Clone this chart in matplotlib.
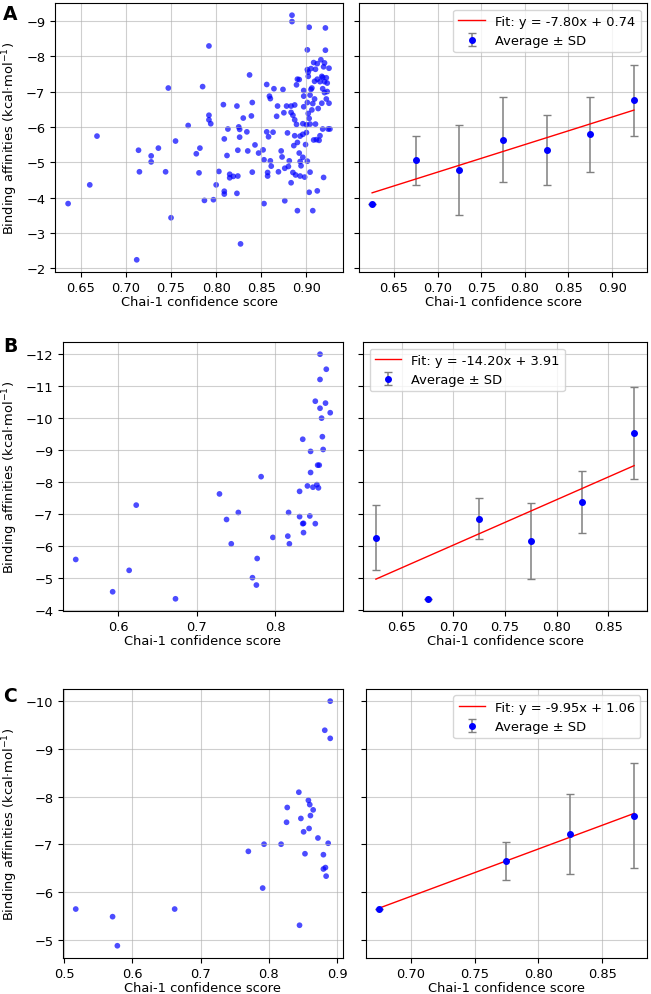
import numpy as np
import matplotlib.pyplot as plt
from matplotlib.ticker import MultipleLocator

# ---- Panel A: individual points (confidence score, binding affinity)
a_x = [0.636, 0.660, 0.668, 0.714, 0.715, 0.712, 0.728, 0.728, 0.736, 0.744,
       0.747, 0.750, 0.755, 0.769, 0.778, 0.782, 0.781, 0.785, 0.787, 0.792,
       0.792, 0.792, 0.794, 0.797, 0.800, 0.803, 0.808, 0.809, 0.809, 0.809,
       0.812, 0.813, 0.815, 0.815, 0.819, 0.823, 0.824, 0.823, 0.824, 0.825,
       0.826, 0.826, 0.827, 0.830, 0.834, 0.835, 0.837, 0.839, 0.840, 0.840,
       0.843, 0.847, 0.852, 0.853, 0.853, 0.856, 0.856, 0.857, 0.857, 0.858,
       0.859, 0.860, 0.860, 0.861, 0.863, 0.864, 0.867, 0.868, 0.869, 0.872,
       0.873, 0.874, 0.875, 0.876, 0.876, 0.878, 0.879, 0.880, 0.881, 0.883,
       0.883, 0.883, 0.884, 0.884, 0.885, 0.885, 0.886, 0.887, 0.887, 0.887,
       0.888, 0.889, 0.889, 0.890, 0.890, 0.890, 0.892, 0.892, 0.893, 0.893,
       0.893, 0.894, 0.896, 0.896, 0.896, 0.897, 0.897, 0.897, 0.898, 0.899,
       0.900, 0.900, 0.901, 0.901, 0.901, 0.901, 0.902, 0.902, 0.903, 0.903,
       0.903, 0.904, 0.904, 0.905, 0.905, 0.906, 0.907, 0.907, 0.908, 0.908,
       0.909, 0.909, 0.910, 0.910, 0.911, 0.912, 0.912, 0.913, 0.914, 0.915,
       0.915, 0.916, 0.917, 0.917, 0.918, 0.918, 0.919, 0.920, 0.920, 0.920,
       0.921, 0.921, 0.922, 0.922, 0.923, 0.924, 0.925, 0.925, 0.926, 0.918,
       0.912, 0.906, 0.904, 0.902, 0.919, 0.923]
a_y = [-3.83, -4.36, -5.74, -5.34, -4.73, -2.24, -5.18, -5.01, -5.40, -4.73,
       -7.10, -3.43, -5.60, -6.04, -5.24, -5.40, -4.70, -7.14, -3.92, -8.29,
       -6.33, -6.20, -6.09, -3.94, -4.36, -4.74, -6.63, -5.66, -4.18, -4.10,
       -5.19, -5.94, -4.66, -4.56, -4.60, -6.59, -4.61, -4.12, -5.34, -6.00,
       -5.93, -5.71, -2.69, -6.25, -5.86, -5.32, -7.47, -6.31, -6.69, -4.72,
       -5.49, -5.26, -5.35, -5.07, -3.83, -7.20, -5.86, -4.71, -4.61, -5.72,
       -6.87, -6.80, -5.04, -4.89, -5.85, -7.08, -6.30, -6.59, -4.73, -5.32,
       -5.15, -7.06, -6.40, -3.91, -4.83, -6.59, -5.83, -4.88, -5.04, -4.42,
       -6.41, -6.59, -9.16, -8.98, -6.33, -4.71, -5.47, -5.75, -6.62, -6.20,
       -4.64, -7.19, -6.07, -5.56, -7.35, -3.63, -5.26, -7.34, -5.74, -5.02,
       -4.61, -4.90, -6.09, -5.79, -5.14, -7.03, -6.57, -6.87, -4.58, -5.50,
       -5.84, -6.06, -6.69, -5.03, -8.18, -7.62, -7.43, -6.38, -6.24, -4.15,
       -8.82, -4.72, -6.08, -7.06, -7.65, -6.48, -3.63, -6.66, -7.82, -5.63,
       -7.29, -6.79, -7.63, -6.08, -5.64, -4.19, -7.79, -6.52, -5.62, -7.28,
       -5.75, -7.90, -7.43, -6.67, -7.08, -5.94, -4.57, -7.28, -6.97, -7.81,
       -8.17, -8.80, -7.39, -6.79, -7.24, -5.94, -7.66, -6.67, -5.94, -7.40,
       -7.35, -7.10, -6.90, -7.55, -7.70, -7.00]

# ---- Panel A: binned averages
a_bin = [0.625, 0.675, 0.725, 0.775, 0.825, 0.875, 0.925]
a_mean = [-3.82, -5.05, -4.78, -5.64, -5.34, -5.79, -6.75]
a_sd = [0.0, 0.70, 1.28, 1.21, 0.99, 1.07, 1.00]
a_fit = (-7.80, 0.74)

# ---- Panel B
b_x = [0.546, 0.593, 0.614, 0.623, 0.673, 0.729, 0.738, 0.753, 0.744, 0.782,
       0.777, 0.771, 0.776, 0.797, 0.816, 0.817, 0.818, 0.831, 0.831, 0.835,
       0.836, 0.835, 0.836, 0.841, 0.844, 0.845, 0.845, 0.848, 0.851, 0.851,
       0.853, 0.854, 0.856, 0.855, 0.857, 0.857, 0.857, 0.859, 0.860, 0.861,
       0.865, 0.864, 0.870]
b_y = [-5.58, -4.57, -5.24, -7.28, -4.35, -7.63, -6.83, -7.05, -6.07, -8.17,
       -5.61, -5.01, -4.78, -6.27, -6.31, -7.05, -6.07, -7.71, -6.92, -9.34,
       -6.71, -6.70, -6.42, -7.88, -6.94, -8.96, -8.30, -7.84, -10.53, -6.70,
       -7.92, -8.53, -8.53, -7.82, -11.21, -12.00, -10.31, -10.00, -9.42, -9.02,
       -11.53, -10.47, -10.17]

b_bin = [0.625, 0.675, 0.725, 0.775, 0.825, 0.875]
b_mean = [-6.26, -4.35, -6.85, -6.16, -7.375, -9.54]
b_sd = [1.02, 0.0, 0.64, 1.18, 0.96, 1.43]
b_fit = (-14.20, 3.91)

# ---- Panel C
c_x = [0.517, 0.571, 0.578, 0.662, 0.770, 0.793, 0.791, 0.818, 0.827, 0.826,
       0.844, 0.847, 0.851, 0.853, 0.845, 0.858, 0.860, 0.861, 0.865, 0.859,
       0.872, 0.880, 0.880, 0.883, 0.884, 0.887, 0.882, 0.890, 0.890]
c_y = [-5.64, -5.48, -4.87, -5.64, -6.85, -7.00, -6.08, -7.00, -7.77, -7.46,
       -8.09, -7.54, -7.26, -6.80, -5.30, -7.92, -7.83, -7.60, -7.72, -7.33,
       -7.13, -6.78, -6.48, -6.51, -6.33, -7.02, -9.39, -10.00, -9.22]

c_bin = [0.675, 0.775, 0.825, 0.875]
c_mean = [-5.64, -6.64, -7.21, -7.60]
c_sd = [0.0, 0.40, 0.84, 1.10]
c_fit = (-9.95, 1.06)

# letter, scatter x/y, bins, means, sd, fit, legend loc, x tick steps (left, right)
panels = [
    ("A", a_x, a_y, a_bin, a_mean, a_sd, a_fit, "upper right", (0.05, 0.05)),
    ("B", b_x, b_y, b_bin, b_mean, b_sd, b_fit, "upper left", (0.1, 0.05)),
    ("C", c_x, c_y, c_bin, c_mean, c_sd, c_fit, "upper right", (0.1, 0.05)),
]

# axes boxes in figure fractions: (left_l, left_w, right_l, right_w, bottom, height)
boxes = [
    (0.0845, 0.4424, 0.5515, 0.4424, 0.7256, 0.2704),
    (0.0968, 0.4300, 0.5576, 0.4363, 0.3849, 0.2704),
    (0.0968, 0.4300, 0.5622, 0.4316, 0.0362, 0.2704),
]
letter_top = [0.995, 0.661, 0.310]

plt.rcParams['font.size'] = 9.4
plt.rcParams['xtick.major.pad'] = 3.0
fig = plt.figure(figsize=(6.51, 9.95), dpi=100)

for (letter, x, y, bins, means, sds, fit, loc, steps), box, ltop in zip(panels, boxes, letter_top):
    ll, lw, rl, rw, bot, h = box
    ax1 = fig.add_axes([ll, bot, lw, h])
    ax2 = fig.add_axes([rl, bot, rw, h], sharey=ax1)

    ax1.scatter(x, y, s=17, color='blue', alpha=0.7, edgecolors='none')
    ax1.set_xlabel("Chai-1 confidence score", labelpad=1)
    ax1.set_ylabel("Binding affinities (kcal·mol$^{-1}$)")
    ax1.xaxis.set_major_locator(MultipleLocator(steps[0]))
    ax1.grid(True, alpha=0.6)

    bx = np.array(bins)
    ax2.errorbar(bx, means, yerr=sds, fmt='o', color='blue', ecolor='gray',
                 elinewidth=1.1, capsize=3, markersize=4, label="Average ± SD")
    slope, icpt = fit
    ax2.plot(bx, slope * bx + icpt, color='red', linewidth=1,
             label=f"Fit: y = {slope:.2f}x + {icpt:.2f}")
    ax2.set_xlabel("Chai-1 confidence score", labelpad=1)
    ax2.xaxis.set_major_locator(MultipleLocator(steps[1]))
    ax2.tick_params(labelleft=False)
    ax2.grid(True, alpha=0.6)
    ax2.legend(loc=loc)

    ax1.invert_yaxis()
    fig.text(0.005, ltop, letter, fontsize=13.5, fontweight='bold',
             va='top', ha='left')

fig.savefig("out.png", dpi=100)
